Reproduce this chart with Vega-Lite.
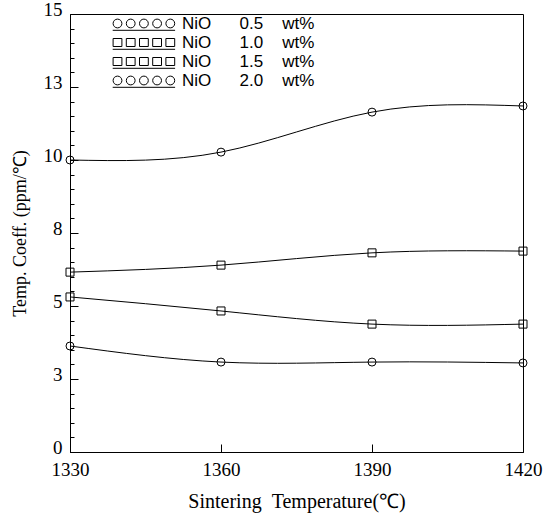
{
  "$schema": "https://vega.github.io/schema/vega-lite/v6.json",
  "width": 453,
  "height": 438,
  "autosize": {"type": "none"},
  "padding": {"left": 70, "top": 14, "right": 22, "bottom": 62},
  "background": "white",
  "config": {
    "view": {"stroke": "black", "strokeWidth": 1},
    "axis": {
      "domainColor": "black",
      "tickColor": "black",
      "labelColor": "black",
      "titleColor": "black",
      "grid": false,
      "labelFont": "Liberation Serif",
      "titleFont": "Liberation Serif",
      "titleFontWeight": "normal"
    }
  },
  "data": {
    "values": [
      {"series": "0.5", "marker": "circle", "temp": 1330, "value": 10.0},
      {"series": "0.5", "marker": "circle", "temp": 1360, "value": 10.27},
      {"series": "0.5", "marker": "circle", "temp": 1390, "value": 11.64},
      {"series": "0.5", "marker": "circle", "temp": 1420, "value": 11.85},
      {"series": "1.0", "marker": "square", "temp": 1330, "value": 6.16},
      {"series": "1.0", "marker": "square", "temp": 1360, "value": 6.4},
      {"series": "1.0", "marker": "square", "temp": 1390, "value": 6.82},
      {"series": "1.0", "marker": "square", "temp": 1420, "value": 6.88},
      {"series": "1.5", "marker": "square", "temp": 1330, "value": 5.31},
      {"series": "1.5", "marker": "square", "temp": 1360, "value": 4.83},
      {"series": "1.5", "marker": "square", "temp": 1390, "value": 4.38},
      {"series": "1.5", "marker": "square", "temp": 1420, "value": 4.38},
      {"series": "2.0", "marker": "circle", "temp": 1330, "value": 3.63},
      {"series": "2.0", "marker": "circle", "temp": 1360, "value": 3.08},
      {"series": "2.0", "marker": "circle", "temp": 1390, "value": 3.08},
      {"series": "2.0", "marker": "circle", "temp": 1420, "value": 3.05}
    ]
  },
  "encoding": {
    "x": {
      "field": "temp",
      "type": "quantitative",
      "scale": {"domain": [1330, 1420], "nice": false, "zero": false},
      "axis": {
        "values": [1330, 1360, 1390, 1420],
        "format": "d",
        "labelFlush": false,
        "tickSize": -8,
        "labelPadding": 16,
        "labelFontSize": 19,
        "title": "Sintering\u00a0\u00a0Temperature(\u2103)",
        "titleFontSize": 20,
        "titlePadding": 12
      }
    }
  },
  "layer": [
    {
      "mark": {"type": "line", "interpolate": "natural", "color": "black", "strokeWidth": 1},
      "encoding": {
        "y": {
          "field": "value",
          "type": "quantitative",
          "scale": {"domain": [0, 15], "nice": false, "zero": true},
          "axis": {
            "orient": "left",
            "values": [0.5, 1, 1.5, 2, 3, 3.5, 4, 4.5, 5.5, 6, 6.5, 7, 8, 8.5, 9, 9.5, 10.5, 11, 11.5, 12, 13, 13.5, 14, 14.5],
            "labels": false,
            "domain": false,
            "tickSize": -4,
            "title": null
          }
        },
        "detail": {"field": "series"}
      }
    },
    {
      "mark": {"type": "point", "filled": false, "color": "black", "size": 64, "strokeWidth": 1, "opacity": 1},
      "encoding": {
        "y": {
          "field": "value",
          "type": "quantitative",
          "axis": {
            "orient": "left",
            "values": [0, 2.5, 5, 7.5, 10, 12.5, 15],
            "format": ".0f",
            "labelFlush": false,
            "tickSize": -8,
            "labelPadding": 16,
            "labelOffset": -5,
            "labelFontSize": 19,
            "title": "Temp. Coeff. (ppm/\u2103)",
            "titleFontSize": 18,
            "titlePadding": 14
          }
        },
        "shape": {
          "field": "marker",
          "type": "nominal",
          "scale": {"domain": ["circle", "square"], "range": ["circle", "square"]},
          "legend": null
        }
      }
    },
    {
      "transform": [{"filter": "datum.temp < 0"}],
      "mark": {"type": "point", "filled": false, "color": "black", "size": 64, "strokeWidth": 1, "opacity": 1},
      "encoding": {
        "y": {"field": "value", "type": "quantitative", "axis": null},
        "shape": {
          "field": "series",
          "type": "nominal",
          "scale": {
            "domain": ["0.5", "1.0", "1.5", "2.0"],
            "range": [
              "M1.1,0A1.1,1.1,0,1,1,-1.1,0A1.1,1.1,0,1,1,1.1,0M4.4,0A1.1,1.1,0,1,1,2.2,0A1.1,1.1,0,1,1,4.4,0M7.7,0A1.1,1.1,0,1,1,5.5,0A1.1,1.1,0,1,1,7.7,0M11,0A1.1,1.1,0,1,1,8.8,0A1.1,1.1,0,1,1,11,0M14.3,0A1.1,1.1,0,1,1,12.1,0A1.1,1.1,0,1,1,14.3,0M-1.2,1.7L14.4,1.7",
              "M-1.1,-1h2.2v2h-2.2ZM2.2,-1h2.2v2h-2.2ZM5.5,-1h2.2v2h-2.2ZM8.8,-1h2.2v2h-2.2ZM12.1,-1h2.2v2h-2.2ZM-1.2,1.7L14.4,1.7",
              "M-1.1,-1h2.2v2h-2.2ZM2.2,-1h2.2v2h-2.2ZM5.5,-1h2.2v2h-2.2ZM8.8,-1h2.2v2h-2.2ZM12.1,-1h2.2v2h-2.2ZM-1.2,1.7L14.4,1.7",
              "M1.1,0A1.1,1.1,0,1,1,-1.1,0A1.1,1.1,0,1,1,1.1,0M4.4,0A1.1,1.1,0,1,1,2.2,0A1.1,1.1,0,1,1,4.4,0M7.7,0A1.1,1.1,0,1,1,5.5,0A1.1,1.1,0,1,1,7.7,0M11,0A1.1,1.1,0,1,1,8.8,0A1.1,1.1,0,1,1,11,0M14.3,0A1.1,1.1,0,1,1,12.1,0A1.1,1.1,0,1,1,14.3,0M-1.2,1.7L14.4,1.7"
            ]
          },
          "legend": {
            "orient": "none",
            "legendX": 39,
            "legendY": 1,
            "title": null,
            "padding": 0,
            "symbolSize": 64,
            "symbolStrokeWidth": 1,
            "symbolStrokeColor": "black",
            "symbolFillColor": "transparent",
            "labelFont": "Liberation Sans",
            "labelFontSize": 17,
            "labelColor": "black",
            "labelOffset": 56,
            "rowPadding": 0,
            "labelExpr": "'NiO\u00a0\u00a0\u00a0\u00a0\u00a0\u00a0' + datum.label + '\u00a0\u00a0\u00a0\u00a0wt%'"
          }
        }
      }
    }
  ],
  "resolve": {"axis": {"y": "independent"}, "scale": {"shape": "independent"}}
}
